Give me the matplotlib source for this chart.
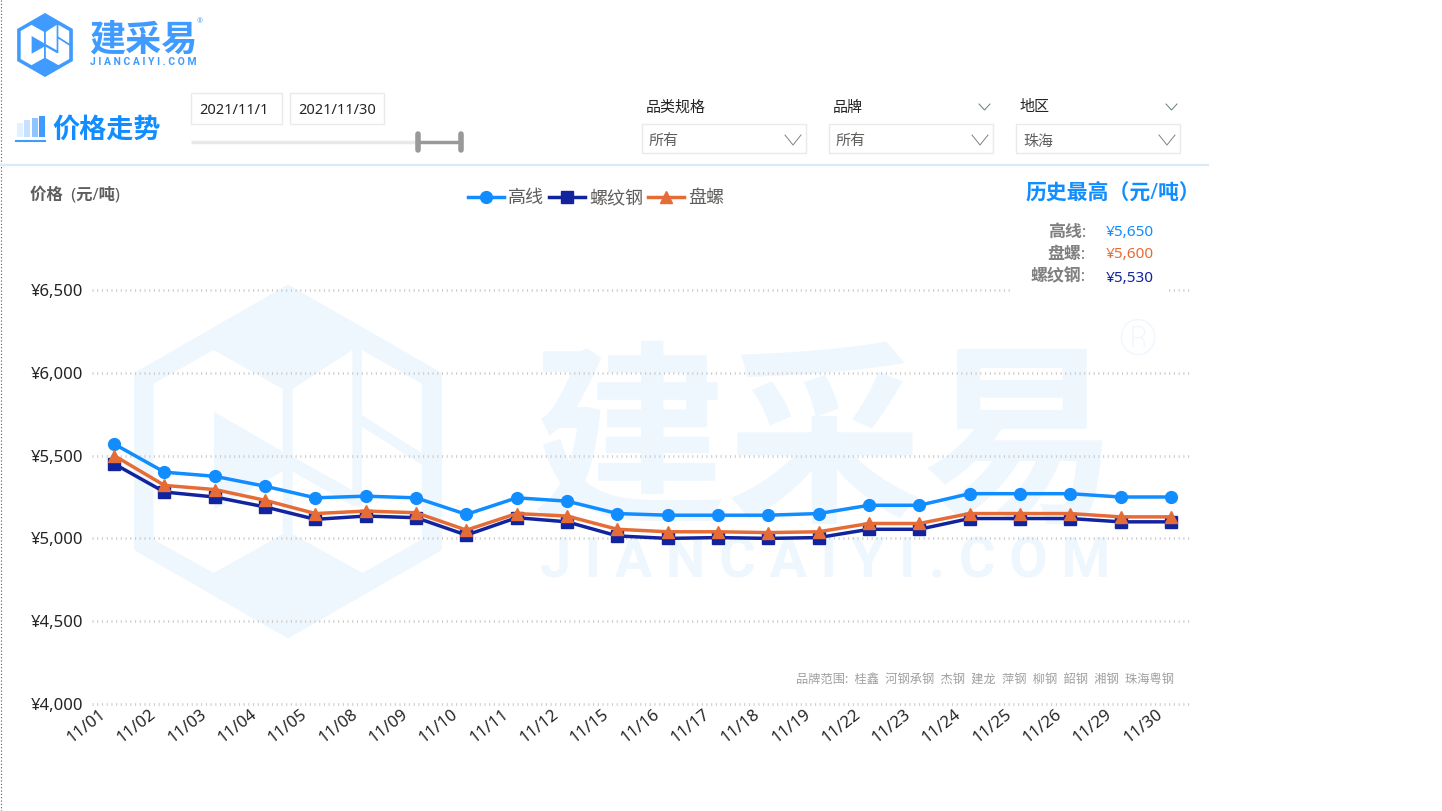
import matplotlib

matplotlib.use("Agg")
import matplotlib.pyplot as plt
from matplotlib.patches import Polygon, Rectangle
from matplotlib.transforms import ScaledTranslation

plt.rcParams["font.family"] = ["Noto Sans", "Noto Sans CJK SC", "DejaVu Sans"]

dates = ["11/01", "11/02", "11/03", "11/04", "11/05", "11/08", "11/09", "11/10", "11/11", "11/12", "11/15",
         "11/16", "11/17", "11/18", "11/19", "11/22", "11/23", "11/24", "11/25", "11/26", "11/29", "11/30"]
gaoxian = [5570, 5400, 5375, 5315, 5245, 5255, 5245, 5145, 5245, 5225, 5150,
           5140, 5140, 5140, 5150, 5200, 5200, 5270, 5270, 5270, 5250, 5250]
luowen = [5450, 5280, 5250, 5190, 5115, 5135, 5125, 5020, 5125, 5100, 5015,
          5000, 5005, 5000, 5005, 5055, 5055, 5120, 5120, 5120, 5100, 5100]
panluo = [5500, 5320, 5295, 5230, 5150, 5165, 5155, 5050, 5150, 5135, 5055,
          5040, 5040, 5035, 5040, 5090, 5090, 5150, 5150, 5150, 5130, 5130]
y_ticks = [4000, 4500, 5000, 5500, 6000, 6500]
brands = "品牌范围:  桂鑫  河钢承钢  杰钢  建龙  萍钢  柳钢  韶钢  湘钢  珠海粤钢"
record_names = ["高线:", "盘螺:", "螺纹钢:"]
record_values = ["¥5,650", "¥5,600", "¥5,530"]

BLUE = "#118DFF"
NAVY = "#12239E"
ORANGE = "#E66C37"
WATER = "#EEF6FE"
LOGO_BLUE = "#3F9BFF"
W, H = 1442, 811

fig = plt.figure(figsize=(W / 100, H / 100), dpi=100, facecolor="white")

# full page layer in pixel coordinates, for everything around the chart
page = fig.add_axes([0, 0, 1, 1], zorder=0)
page.set_xlim(0, W)
page.set_ylim(H, 0)
page.axis("off")

# logo pieces in units of the centre to top distance
HEX = [(0, -1), (.87, -.5), (.87, .5), (0, 1), (-.87, .5), (-.87, -.5)]
WHITE_PIECES = [
    [(-.76, -.44), (-.42, -.63), (-.03, -.41), (-.03, .41), (-.42, .63), (-.76, .44)],
    [(.026, -.41), (.364, -.63), (.364, .163), (.026, -.028)],
    [(.417, -.63), (.756, -.44), (.756, -.047), (.417, -.263)],
    [(.026, .056), (.37, .253), (.417, .253), (.417, -.197), (.756, .019), (.756, .44), (.42, .63), (.026, .41)],
]
TRIANGLE = [(-.418, -.281), (-.03, -.056), (-.03, .056), (-.418, .272)]


def logo(cx, cy, r, color):
    def pts(shape):
        return [(cx + x * r, cy + y * r) for x, y in shape]
    page.add_patch(Polygon(pts(HEX), closed=True, fc=color, ec="none"))
    for piece in WHITE_PIECES:
        page.add_patch(Polygon(pts(piece), closed=True, fc="white", ec="none"))
    page.add_patch(Polygon(pts(TRIANGLE), closed=True, fc=color, ec="none"))


# watermark behind the plot
logo(288, 461.5, 177, WATER)
page.text(825, 456, "建采易", fontsize=141, fontweight="black", color=WATER, ha="center", va="center")
page.text(1138, 341, "®", fontsize=36, fontweight="light", family=["Roboto"], color=WATER, ha="center", va="center")
page.text(825, 563, "J I A N C A I Y I . C O M", fontsize=40, fontweight="bold", family=["Roboto"],
          color=WATER, ha="center", va="center")

# header logo
logo(45, 45, 32, LOGO_BLUE)
page.text(143, 41, "建采易", fontsize=26, fontweight="black", color=LOGO_BLUE, ha="center", va="center")
page.text(200, 22, "®", fontsize=5, color=LOGO_BLUE, ha="center", va="center")
page.text(143, 62, "J I A N C A I Y I . C O M", fontsize=7.5, fontweight="bold", family=["Roboto"],
          color=LOGO_BLUE, ha="center", va="center")

# left page border and header rule
page.plot([1, 1], [0, H], color="#555555", lw=0.8, ls=(0, (1, 2)))
page.plot([0, 1208], [165, 165], color="#DCEAF8", lw=1.6)

# section title with the small bars icon
for x, top, col in [(17, 123, "#E2F1FF"), (24, 120, "#C6E2FF"), (32, 118, "#8CC5FF"), (39, 116, "#3F9BFF")]:
    page.add_patch(Rectangle((x, top), 6, 137 - top, fc=col, ec="none"))
page.plot([16, 45], [141, 141], color=LOGO_BLUE, lw=1.5)
page.text(52, 131, "价格走势", fontsize=19.5, fontweight="bold", color=BLUE, va="center")

# date boxes and slider
for x, w, label in [(191, 91, "2021/11/1"), (290, 94, "2021/11/30")]:
    page.add_patch(Rectangle((x, 92.5), w, 31.5, fc="white", ec="#EAEAEA", lw=1))
    page.text(x + 8, 110, label, fontsize=10.5, color="#252423", va="center")
page.plot([191, 418], [142, 142], color="#E8E8E8", lw=2.5, solid_capstyle="butt")
page.plot([418, 461], [142, 142], color="#999999", lw=2.5, solid_capstyle="butt")
for x in [418, 461]:
    page.plot([x, x], [134, 150], color="#999999", lw=4, solid_capstyle="round")

# slicers
for x, title, value, top_arrow in [(642, "品类规格", "所有", False), (829, "品牌", "所有", True),
                                   (1016, "地区", "珠海", True)]:
    page.text(x + 4, 108, title, fontsize=10.8, color="#252423", va="center")
    page.add_patch(Rectangle((x, 124), 164, 29, fc="white", ec="#EAEAEA", lw=1))
    page.text(x + 7, 142, value, fontsize=10.8, color="#605E5C", va="center")
    page.plot([x + 143, x + 151, x + 159], [135, 145, 135], color="#808080", lw=0.7)
    if top_arrow:
        page.plot([x + 150, x + 155.5, x + 161], [104, 110, 104], color="#5F7F80", lw=0.7)

page.text(30, 195, "价格  (元/吨)", fontsize=11.8, fontweight="bold", color="#605E5C", va="center")
page.text(1200, 193, "历史最高（元/吨）", fontsize=15, fontweight="bold", color=BLUE, ha="right", va="center")
for y, vy, name, val, col in zip([233, 255, 277], [232, 254, 278], record_names, record_values,
                                 [BLUE, ORANGE, NAVY]):
    page.text(1086, y, name, fontsize=12.2, fontweight="bold", color="#808080", ha="right", va="center")
    page.text(1106, vy, val, fontsize=11, color=col, va="center")

# the chart itself: 89-1196 px wide, 290-704 px tall
ax = fig.add_axes([89 / W, 1 - 704 / H, (1196 - 89) / W, (704 - 290) / H], zorder=1)
ax.patch.set_alpha(0)
ax.set_xlim(-0.5, len(dates) - 0.5)
ax.set_ylim(4000, 6500)
for s in ax.spines.values():
    s.set_visible(False)

for v in y_ticks:
    ax.axhline(v, xmin=0.003, xmax=0.9946, color="#CFCDCB", lw=2, ls=(0, (0.4, 1.3)), dash_capstyle="butt",
               clip_on=False, zorder=1)
# the record table hides part of the top gridline
ax.add_patch(Rectangle(((1010 - 89) / 1107, 0.985), 158 / 1107, 0.03, transform=ax.transAxes, fc="white", ec="none",
                       clip_on=False, zorder=2))

x = range(len(dates))
l1, = ax.plot(x, gaoxian, color=BLUE, lw=2.5, marker="o", ms=8.5, label="高线", zorder=3, clip_on=False)
l2, = ax.plot(x, luowen, color=NAVY, lw=2.5, marker="s", ms=8.5, label="螺纹钢", zorder=4, clip_on=False)
l3, = ax.plot(x, panluo, color=ORANGE, lw=2.5, marker="^", ms=8.5, label="盘螺", zorder=5, clip_on=False)

ax.set_xticks(list(x))
ax.set_xticklabels(dates, rotation=38, ha="right", rotation_mode="anchor", fontsize=12, color="#252423")
ax.set_yticks(y_ticks)
ax.set_yticklabels([f"¥{v:,}" for v in y_ticks], fontsize=12, color="#252423")
ax.tick_params(length=0, axis="y", pad=4)
ax.tick_params(length=0, axis="x", pad=6)
# tick_params resets label transforms, so the shift has to come after it
shift = ScaledTranslation(-15 / 100, 6 / 100, fig.dpi_scale_trans)
for label in ax.get_xticklabels():
    label.set_transform(label.get_transform() + shift)

fig.legend(handles=[l1, l2, l3], loc="center left", bbox_to_anchor=(468 / W, 1 - 198 / H), ncol=3, frameon=False,
           fontsize=13, labelcolor="#605E5C", handlelength=2.0, handletextpad=0.2, columnspacing=0.3,
           borderpad=0, borderaxespad=0)

page.text(1174, 680, brands, fontsize=8.8, color="#A0A0A0", ha="right", va="center")

fig.savefig("out.png", dpi=100)
